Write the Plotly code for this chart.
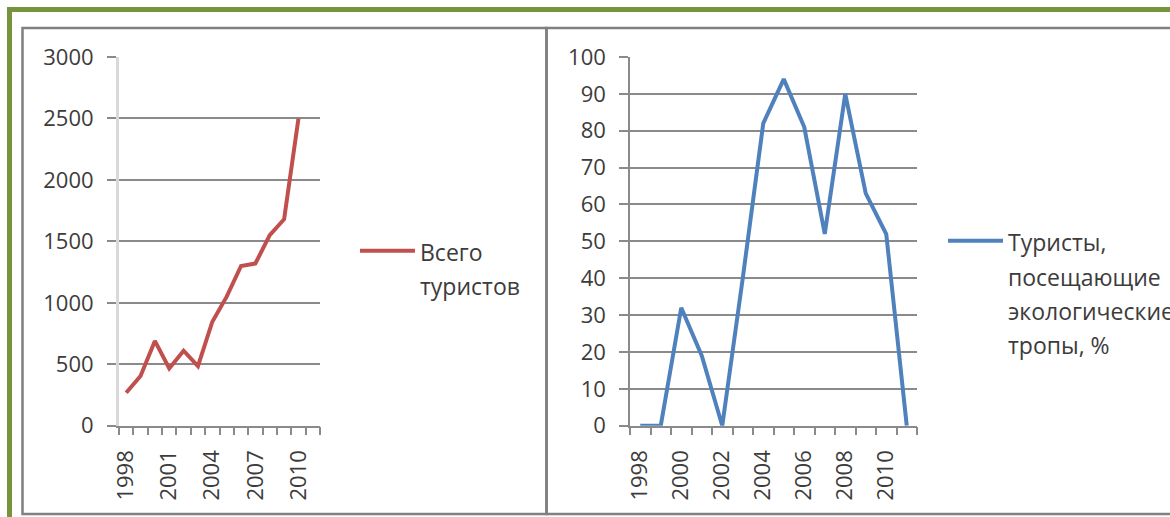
import plotly.graph_objects as go

# ---------------- data ----------------
years = list(range(1998, 2012))
total_tourists = [268, 404, 690, 466, 610, 485, 846, 1050, 1300, 1320, 1550, 1680, 2500, None]
eco_trail_share = [0, 0, 32, 19, 0, 40, 82, 94, 81, 52, 90, 63, 52, 0]

left_tick_years = [1998, 2001, 2004, 2007, 2010]
right_tick_years = [1998, 2000, 2002, 2004, 2006, 2008, 2010]
left_y_ticks = [0, 500, 1000, 1500, 2000, 2500, 3000]
right_y_ticks = [0, 10, 20, 30, 40, 50, 60, 70, 80, 90, 100]

left_name_lines = ["Всего", "туристов"]
right_name_lines = ["Туристы,", "посещающие", "экологические", "тропы, %"]

# ---------------- style ----------------
W, H = 1170, 517
RED = "#C0504D"
BLUE = "#4F81BD"
GRID = "#8A8A8A"
TEXT = "#3C3C3C"
GREEN = "#77933C"
BOX = "#808080"
FONT = "Open Sans"
FS = 22          # tick-label size
LEG_FS = 23      # legend glyph size
LEG_LINE = 26.5  # legend base size (sets the wider line spacing)


def px(x):
    return x / W


def py(y):
    return 1 - y / H


def legend_label(lines):
    return "<br>".join(f"<span style='font-size:{LEG_FS}px'>{t}</span>" for t in lines)


boundaries = [y - 0.5 for y in years] + [years[-1] + 0.5]

fig = go.Figure()
fig.add_trace(go.Scatter(
    x=years, y=total_tourists, mode="lines", name=legend_label(left_name_lines),
    line=dict(color=RED, width=4), xaxis="x", yaxis="y", legend="legend",
    cliponaxis=False,
))
fig.add_trace(go.Scatter(
    x=years, y=eco_trail_share, mode="lines", name=legend_label(right_name_lines),
    line=dict(color=BLUE, width=4), xaxis="x2", yaxis="y2", legend="legend2",
    cliponaxis=False,
))

tickfont = dict(family=FONT, size=FS, color=TEXT)


def xaxis_cfg(domain, tickyears, anchor):
    return dict(
        domain=domain, anchor=anchor, range=[boundaries[0], boundaries[-1]],
        tickmode="array", tickvals=tickyears, ticktext=[str(t) for t in tickyears],
        tickangle=-90, ticks="", showgrid=False, zeroline=False,
        showline=True, linecolor=GRID, linewidth=1.5,
        minor=dict(ticks="outside", ticklen=8, tickcolor=GRID, tickwidth=1.5,
                   tickmode="array", tickvals=boundaries, showgrid=False),
        ticklabelstandoff=14, tickfont=tickfont, fixedrange=True,
        automargin=False,
    )


def yaxis_cfg(domain, rng, tickvals, anchor, linecolor, linewidth):
    return dict(
        domain=domain, anchor=anchor, range=rng,
        tickmode="array", tickvals=tickvals,
        ticks="outside", ticklen=9, tickcolor=GRID, tickwidth=1.5,
        showgrid=True, gridcolor=GRID, gridwidth=1.5, zeroline=False,
        showline=True, linecolor=linecolor, linewidth=linewidth,
        ticklabelstandoff=9, tickfont=tickfont, fixedrange=True,
        automargin=False,
    )


ydom = [py(425.7), py(57)]

fig.update_layout(
    width=W, height=H,
    margin=dict(l=0, r=0, t=0, b=0, pad=0, autoexpand=False),
    paper_bgcolor="white", plot_bgcolor="white",
    font=dict(family=FONT, size=FS, color=TEXT),
    showlegend=True,
    xaxis=xaxis_cfg([px(119), px(320)], left_tick_years, "y"),
    yaxis=yaxis_cfg(ydom, [0, 3000], left_y_ticks, "x", "#D9D9D9", 3),
    xaxis2=xaxis_cfg([px(630), px(917)], right_tick_years, "y2"),
    yaxis2=yaxis_cfg(ydom, [0, 100], right_y_ticks, "x2", GRID, 1.5),
    legend=dict(x=px(355), y=py(227), xanchor="left", yanchor="top",
                valign="top", bgcolor="rgba(0,0,0,0)", itemwidth=55,
                font=dict(family=FONT, size=LEG_LINE, color=TEXT)),
    legend2=dict(x=px(943), y=py(217), xanchor="left", yanchor="top",
                 valign="top", bgcolor="rgba(0,0,0,0)", itemwidth=55,
                 font=dict(family=FONT, size=LEG_LINE, color=TEXT)),
    shapes=[
        # green outer frame
        dict(type="rect", xref="paper", yref="paper",
             x0=px(9.5), x1=px(1200), y0=py(600), y1=py(9.5),
             line=dict(color=GREEN, width=5), layer="above"),
        # gray panel boxes
        dict(type="rect", xref="paper", yref="paper",
             x0=px(22.5), x1=px(546.5), y0=py(514), y1=py(28),
             line=dict(color=BOX, width=2.5), layer="above"),
        dict(type="rect", xref="paper", yref="paper",
             x0=px(546.5), x1=px(1200), y0=py(514), y1=py(28),
             line=dict(color=BOX, width=2.5), layer="above"),
    ],
)

fig.write_html(
    "out.html",
    config={"displayModeBar": False},
    post_script="document.body.style.margin='0px';document.body.style.overflow='hidden';",
)
